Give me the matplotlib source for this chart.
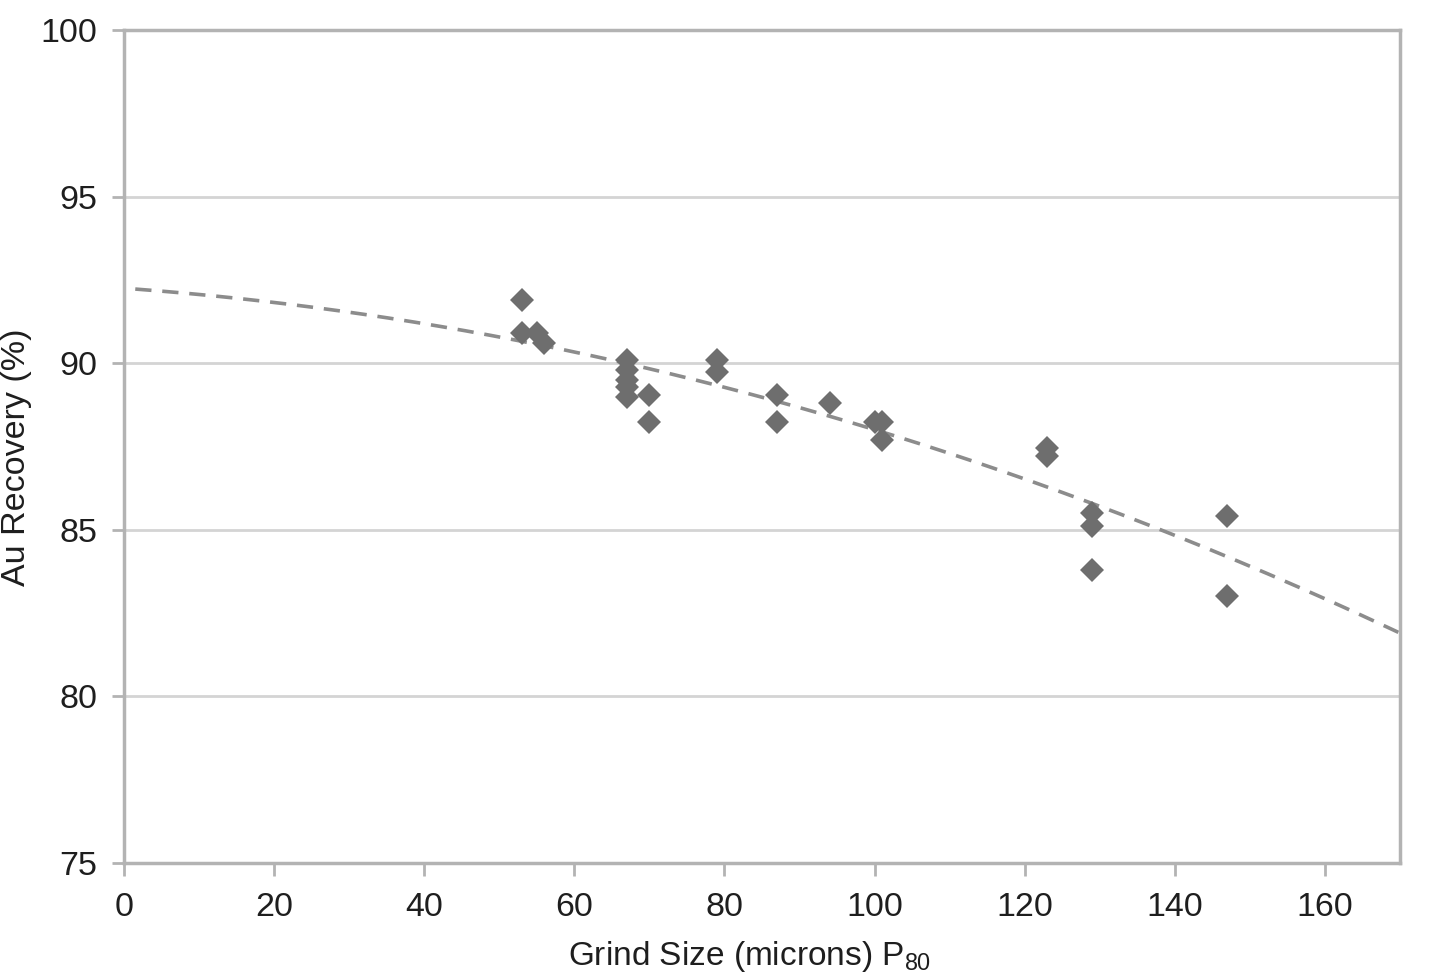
import numpy as np
import matplotlib
matplotlib.use("Agg")
import matplotlib.pyplot as plt

plt.rcParams['font.family'] = ['Liberation Sans', 'DejaVu Sans']

grind_size = [53, 53, 55, 56, 67, 67, 67, 67, 67, 70, 70, 79, 79, 87, 87, 94,
              100, 101, 101, 123, 123, 129, 129, 129, 147, 147]
recovery = [91.9, 90.9, 90.9, 90.6, 90.1, 89.8, 89.5, 89.3, 89.0, 89.05, 88.25,
            90.1, 89.75, 89.05, 88.25, 88.8, 88.25, 88.25, 87.7, 87.45, 87.2,
            85.5, 85.1, 83.8, 85.4, 83.0]
# polynomial (order 2) trendline coefficients as shown in the chart
trend_coef = [-0.0002635, -0.01609, 92.25]
x_ticks = [0, 20, 40, 60, 80, 100, 120, 140, 160]
y_ticks = [75, 80, 85, 90, 95, 100]

fig = plt.figure(figsize=(14.3, 9.8), dpi=100)
ax = fig.add_axes([124/1430, 1 - 863/980, (1400-124)/1430, (863-30)/980])

ax.set_xlim(0, 170)
ax.set_ylim(75, 100)

ax.yaxis.grid(True, color='#d4d4d4', linewidth=2)
ax.set_axisbelow(True)

xt = np.linspace(1.5, 170, 300)
ax.plot(xt, np.polyval(trend_coef, xt), linestyle=(0, (4.5, 3)), color='#8c8c8c',
        linewidth=2.6, zorder=2)

ax.plot(grind_size, recovery, linestyle='none', marker='D', markersize=12,
        color='#6e6e6e', markeredgewidth=0, zorder=3)

ax.set_xticks(x_ticks)
ax.set_yticks(y_ticks)
for s in ax.spines.values():
    s.set_color('#b3b3b3')
    s.set_linewidth(2.5)
ax.tick_params(axis='both', colors='#b3b3b3', width=2, length=9, labelcolor='#1e1e1e',
               labelsize=24.5, direction='out')
ax.tick_params(axis='x', pad=12)
ax.tick_params(axis='y', pad=10)

ax.set_xlabel('Grind Size (microns) P$_{\\mathregular{80}}$', fontsize=24, color='#1e1e1e')
ax.xaxis.set_label_coords(0.49, -0.091)
ax.set_ylabel('Au Recovery (%)', fontsize=24.5, color='#1e1e1e')
ax.yaxis.set_label_coords(-0.072, 0.487)

fig.savefig('out.png', dpi=100, facecolor='white')
